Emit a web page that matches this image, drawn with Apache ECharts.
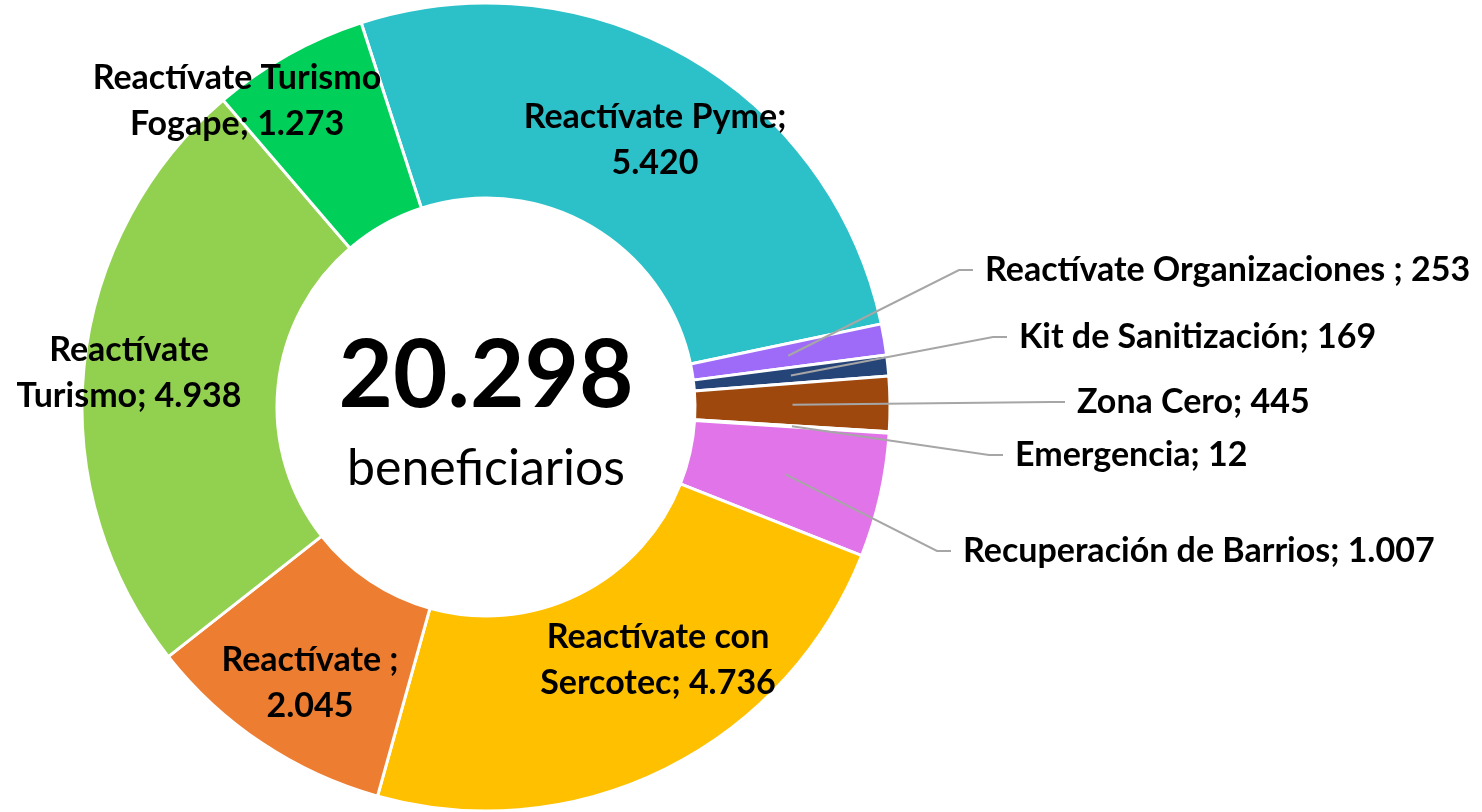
<!DOCTYPE html>
<html>
<head>
<meta charset="utf-8">
<script src="https://cdn.jsdelivr.net/npm/echarts@6/dist/echarts.min.js"></script>
<style>
  html, body { margin: 0; padding: 0; background: #fff; }
  #chart { width: 1482px; height: 812px; }
</style>
</head>
<body>
<div id="chart"></div>
<script>
// data
const names = [
  'Reactívate Pyme',
  'Reactívate Organizaciones ',
  'Kit de Sanitización',
  'Zona Cero',
  'Emergencia',
  'Recuperación de Barrios',
  'Reactívate con Sercotec',
  'Reactívate ',
  'Reactívate Turismo',
  'Reactívate Turismo Fogape'
]
const values = [5420, 253, 169, 445, 12, 1007, 4736, 2045, 4938, 1273]
const centerCaption = 'beneficiarios'

// styling
const colors = ['#2cc1c8', '#9e6bf8', '#254478', '#9e480e', '#a5a5a5',
                '#e174e8', '#ffc000', '#ed7d31', '#92d050', '#00d05a']
const CX = 486, CY = 407, R_IN = 209, R_OUT = 404, START = 108
const FONT = 'Lato, "Open Sans", sans-serif'

// where each label goes; inside = centered, outside = left aligned with leader line
const labelPos = {
  'Reactívate Pyme': { x: 655, y: 140, inside: true, brk: ['; ', ';\n'] },
  'Reactívate Turismo Fogape': { x: 237, y: 101, inside: true, brk: [' Fogape', '\nFogape'] },
  'Reactívate Turismo': { x: 129, y: 373, inside: true, brk: [' Turismo', '\nTurismo'] },
  'Reactívate ': { x: 310, y: 683, inside: true, brk: ['; ', ';\n'] },
  'Reactívate con Sercotec': { x: 658, y: 660, inside: true, brk: [' Sercotec', '\nSercotec'] },
  'Reactívate Organizaciones ': { x: 985, y: 270 },
  'Kit de Sanitización': { x: 1019, y: 337 },
  'Zona Cero': { x: 1077, y: 402 },
  'Emergencia': { x: 1015, y: 455 },
  'Recuperación de Barrios': { x: 963, y: 551 }
}

const fmt = v => String(v).replace(/\B(?=(\d{3})+(?!\d))/g, '.')
const total = values.reduce((a, b) => a + b, 0)

// mid angle of each slice, for the leader line start
const midAngle = []
let acc = 0
values.forEach(v => {
  midAngle.push((START - (acc + v / 2) / total * 360) * Math.PI / 180)
  acc += v
})

const pieBase = {
  type: 'pie',
  center: [CX, CY],
  radius: [R_IN, R_OUT],
  startAngle: START,
  clockwise: true,
  avoidLabelOverlap: false,
  minAngle: 0
}

const chart = echarts.init(document.getElementById('chart'))
chart.setOption({
  animation: false,
  color: colors,
  graphic: [
    {
      type: 'text', x: CX, y: CY - 30,
      style: { text: fmt(total), align: 'center', verticalAlign: 'middle',
               font: 'bold 94px ' + FONT, fill: '#000' }
    },
    {
      type: 'text', x: CX, y: CY + 62,
      style: { text: centerCaption, align: 'center', verticalAlign: 'middle',
               font: '50px ' + FONT, fill: '#000' }
    }
  ],
  series: [
    // slices
    Object.assign({}, pieBase, {
      z: 2,
      itemStyle: { borderColor: '#fff', borderWidth: 3 },
      label: { show: false },
      labelLine: { show: false },
      data: names.map((n, i) => ({ name: n, value: values[i] }))
    }),
    // same pie, invisible, only carrying labels so leader lines sit above the slices
    Object.assign({}, pieBase, {
      z: 3,
      silent: true,
      itemStyle: { color: 'rgba(0,0,0,0)', borderWidth: 0 },
      label: {
        color: '#000',
        fontFamily: FONT,
        fontWeight: 'bold',
        fontSize: 34,
        lineHeight: 46,
        formatter: p => {
          let t = p.name + '; ' + fmt(p.value)
          const lp = labelPos[p.name]
          if (lp && lp.brk) t = t.replace(lp.brk[0], lp.brk[1])
          return t
        }
      },
      labelLine: { show: true, length: 10, length2: 10,
                   lineStyle: { color: '#a6a6a6', width: 2 } },
      labelLayout: params => {
        const lp = labelPos[names[params.dataIndex]]
        if (lp.inside) {
          return { x: lp.x, y: lp.y, align: 'center', verticalAlign: 'middle' }
        }
        const a = midAngle[params.dataIndex]
        const r = (R_IN + R_OUT) / 2
        return {
          x: lp.x, y: lp.y, align: 'left', verticalAlign: 'middle',
          labelLinePoints: [
            [CX + r * Math.cos(a), CY - r * Math.sin(a)],
            [lp.x - 26, lp.y],
            [lp.x - 12, lp.y]
          ]
        }
      },
      data: names.map((n, i) => ({
        name: n,
        value: values[i],
        label: { position: labelPos[n].inside ? 'inside' : 'outside' },
        labelLine: { show: !labelPos[n].inside }
      }))
    })
  ]
})
</script>
</body>
</html>
